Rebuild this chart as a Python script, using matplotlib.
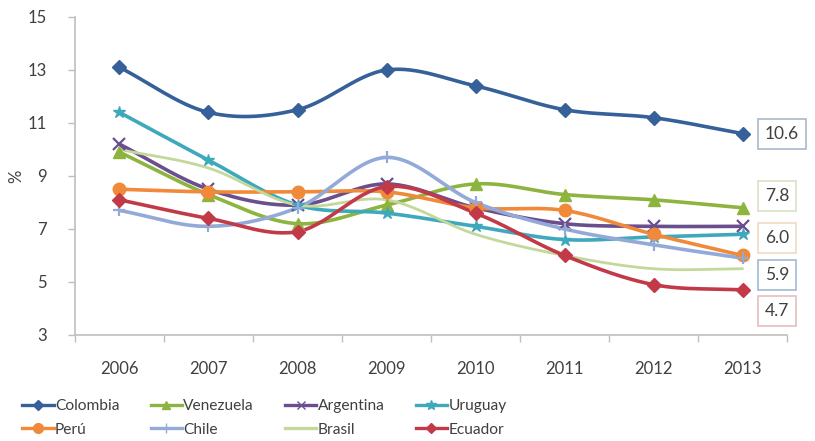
import numpy as np
import matplotlib
matplotlib.use("Agg")
import matplotlib.pyplot as plt
from matplotlib.lines import Line2D

plt.rcParams['font.family'] = ['Lato', 'DejaVu Sans']

years = ["2006", "2007", "2008", "2009", "2010", "2011", "2012", "2013"]

colombia  = [13.1, 11.4, 11.5, 13.0, 12.4, 11.5, 11.2, 10.6]
venezuela = [9.9, 8.3, 7.2, 7.9, 8.7, 8.3, 8.1, 7.8]
argentina = [10.2, 8.5, 7.9, 8.7, 7.8, 7.2, 7.1, 7.1]
uruguay   = [11.4, 9.6, 7.9, 7.6, 7.1, 6.6, 6.7, 6.8]
peru      = [8.5, 8.4, 8.4, 8.4, 7.8, 7.7, 6.8, 6.0]
chile     = [7.7, 7.1, 7.8, 9.7, 8.0, 7.0, 6.4, 5.9]
brasil    = [10.0, 9.3, 7.9, 8.1, 6.8, 6.0, 5.5, 5.5]
ecuador   = [8.1, 7.4, 6.9, 8.6, 7.6, 6.0, 4.9, 4.7]

series = {
    "Colombia": (colombia, "#35609A", "D", 7),
    "Venezuela": (venezuela, "#8DB43E", "^", 8),
    "Argentina": (argentina, "#6A4E8E", "x", 8),
    "Uruguay": (uruguay, "#3EA8BC", "*", 9),
    "Perú": (peru, "#F08A3A", "o", 9),
    "Chile": (chile, "#93AAD8", "+", 9),
    "Brasil": (brasil, "#C4D89C", None, 0),
    "Ecuador": (ecuador, "#C23A48", "D", 7),
}

# legend entries, ordered so the 4-column legend reads row by row
legend_order = ["Colombia", "Perú", "Venezuela", "Chile",
                "Argentina", "Brasil", "Uruguay", "Ecuador"]

# values shown in boxes beside the last year: (value, box edge, vertical shift)
end_labels = [
    (colombia[-1], "#A9B8CB", 0.0),
    (venezuela[-1], "#D9E2C6", 0.45),
    (peru[-1], "#F1DCC4", 0.66),
    (chile[-1], "#9FBBD3", -0.64),
    (ecuador[-1], "#E4BEBE", -0.8),
]


def smooth(xs, ys, n=30):
    """Catmull-Rom curve through the points, like a smoothed spreadsheet line."""
    xs = np.asarray(xs, float)
    ys = np.asarray(ys, float)
    px = np.concatenate([[2 * xs[0] - xs[1]], xs, [2 * xs[-1] - xs[-2]]])
    py = np.concatenate([[2 * ys[0] - ys[1]], ys, [2 * ys[-1] - ys[-2]]])
    out_x, out_y = [], []
    t = np.linspace(0, 1, n, endpoint=False)
    for i in range(1, len(px) - 2):
        for arr, out in ((px, out_x), (py, out_y)):
            p0, p1, p2, p3 = arr[i - 1], arr[i], arr[i + 1], arr[i + 2]
            v = 0.5 * ((2 * p1) + (-p0 + p2) * t +
                       (2 * p0 - 5 * p1 + 4 * p2 - p3) * t ** 2 +
                       (-p0 + 3 * p1 - 3 * p2 + p3) * t ** 3)
            out.extend(v)
    out_x.append(xs[-1])
    out_y.append(ys[-1])
    return np.array(out_x), np.array(out_y)


fig = plt.figure(figsize=(8.15, 4.41), dpi=100)
ax = fig.add_axes([0.092, 0.2404, 0.8737, 0.7211])

x = np.arange(len(years))
handles = {}
for name, (vals, color, marker, ms) in series.items():
    sx, sy = smooth(x, vals)
    lw = 2.6 if name != "Brasil" else 2.0
    ax.plot(sx, sy, color=color, lw=lw, solid_capstyle="round", zorder=2)
    if marker:
        mew = 1.6 if marker in ("x", "+") else 1.0
        ax.plot(x, vals, linestyle="none", marker=marker, ms=ms, color=color,
                markeredgecolor=color, markeredgewidth=mew, zorder=3)
    handles[name] = Line2D([], [], color=color, lw=2.4, marker=marker,
                           ms=max(ms - 2, 0), markeredgewidth=1.0)

ax.set_xlim(-0.5, len(years) - 0.5)
ax.set_ylim(3, 15)
ax.set_yticks([3, 5, 7, 9, 11, 13, 15])
ax.set_xticks(np.arange(-0.5, len(years), 1))
ax.set_xticklabels([])
ax.set_xticks(x, minor=True)
ax.set_xticklabels(years, minor=True)
ax.tick_params(axis="x", which="major", length=5, color="#BFBFBF", width=1)
ax.tick_params(axis="x", which="minor", length=0, pad=19, labelsize=12,
               labelcolor="#404040")
ax.tick_params(axis="y", length=5, color="#BFBFBF", width=1, labelsize=12,
               labelcolor="#404040", pad=15)
for side in ("top", "right"):
    ax.spines[side].set_visible(False)
for side in ("left", "bottom"):
    ax.spines[side].set_color("#BFBFBF")
    ax.spines[side].set_linewidth(1.2)
ax.set_ylabel("%", fontsize=12, color="#404040", labelpad=3)

for val, edge, dy in end_labels:
    ax.annotate(f"{val:.1f}", xy=(len(years) - 1, val), xycoords="data",
                xytext=(7.25, val + dy), textcoords="data",
                va="center", ha="left", fontsize=12.5, color="#404040",
                bbox=dict(boxstyle="square,pad=0.4", fc="white", ec=edge, lw=1.2),
                annotation_clip=False)

fig.legend([handles[n] for n in legend_order], legend_order, ncol=4,
           loc="upper left", bbox_to_anchor=(0.018, 0.112), frameon=False,
           fontsize=11.2, handlelength=2.0, handletextpad=0.1, columnspacing=2.0,
           labelspacing=0.6, borderpad=0, labelcolor="#404040")

fig.savefig("out.png", dpi=100, facecolor="white")
